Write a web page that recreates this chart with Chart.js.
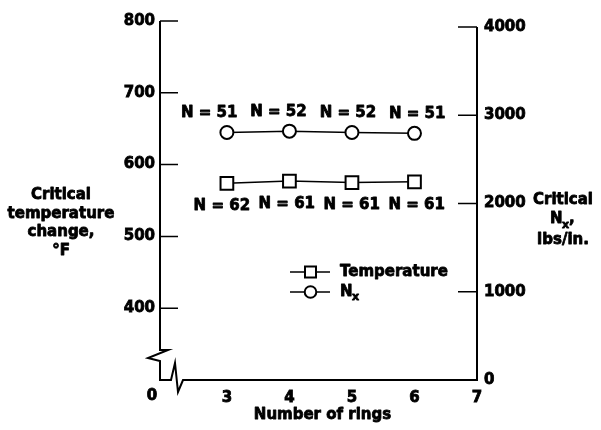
<!DOCTYPE html>
<html><head><meta charset="utf-8">
<script src="https://cdn.jsdelivr.net/npm/chart.js@4/dist/chart.umd.min.js"></script>
<style>html,body{margin:0;padding:0;background:#fff;}#wrap{width:601px;height:430px;position:relative;}</style>
</head><body><div id="wrap"><canvas id="c"></canvas></div>
<script>
const rings = [3, 4, 5, 6];
const temperature = [574, 577, 575, 576];
const nx = [2805, 2820, 2805, 2795];
const tempLabels = ['N = 62', 'N = 61', 'N = 61', 'N = 61'];
const nxLabels = ['N = 51', 'N = 52', 'N = 52', 'N = 51'];
const xTicks = [3, 4, 5, 6, 7];
const leftTicks = [400, 500, 600, 700, 800];
const rightTicks = [0, 1000, 2000, 3000, 4000];
const leftTitle = ['Critical', 'temperature', 'change,', '°F'];
const xTitle = 'Number of rings';

const FAM = '"DejaVu Sans", sans-serif';
const F15 = 'bold 15px ' + FAM;
const F11 = 'bold 11px ' + FAM;
const tickFont = {family: FAM, weight: 'bold', size: 15};
const STROKE = 0.8;

const decor = {
  id: 'decor',
  afterDraw(chart) {
    const ctx = chart.ctx, ca = chart.chartArea;
    const sr = chart.scales.yR, sl = chart.scales.yL;
    const L = ca.left, R = ca.right, B = ca.bottom, T = ca.top;
    const txt = (t, x, y) => {
      ctx.save(); ctx.lineWidth = STROKE; ctx.strokeStyle = '#000'; ctx.lineJoin = 'round';
      ctx.strokeText(t, x, y); ctx.restore(); ctx.fillText(t, x, y);
    };
    ctx.save();
    ctx.strokeStyle = '#000'; ctx.fillStyle = '#000';
    ctx.lineWidth = 2; ctx.lineJoin = 'miter';
    // left axis with break
    ctx.beginPath();
    ctx.moveTo(L, T); ctx.lineTo(L, B - 30);
    ctx.lineTo(L + 8, B - 30); ctx.lineTo(L - 12, B - 22); ctx.lineTo(L, B - 19);
    ctx.lineTo(L, B);
    // bottom axis with break
    ctx.lineTo(L + 11, B); ctx.lineTo(L + 15, B - 17); ctx.lineTo(L + 18, B + 12);
    ctx.lineTo(L + 23, B); ctx.lineTo(R, B);
    // right axis
    ctx.lineTo(R, sr.getPixelForValue(4000));
    ctx.stroke();
    // inner ticks
    ctx.lineWidth = 1.5;
    ctx.beginPath();
    leftTicks.forEach(v => { const p = sl.getPixelForValue(v); ctx.moveTo(L, p); ctx.lineTo(L + 18, p); });
    rightTicks.forEach(v => { if (v === 0) return; const p = sr.getPixelForValue(v); ctx.moveTo(R - 19, p); ctx.lineTo(R, p); });
    ctx.stroke();

    ctx.font = F15; ctx.textAlign = 'center'; ctx.textBaseline = 'middle';
    // broken-axis zero
    txt('0', L - 8, B + 16);
    // x title
    txt(xTitle, (L + R) / 2 + 4, B + 35);
    // left title
    leftTitle.forEach((t, i) => txt(t, 61, 195 + i * 18.7));
    // right title
    txt('Critical', 563, 200);
    txt('lbs/in.', 563, 240);
    ctx.textAlign = 'left';
    txt('N', 550, 219);
    ctx.font = F11;
    txt('x', 562, 225);
    ctx.font = F15;
    txt(',', 569, 219);

    // point labels (spread slightly wider than the points, as in the original)
    ctx.textAlign = 'center';
    const mN = chart.getDatasetMeta(1).data, mT = chart.getDatasetMeta(0).data;
    const mid = (mN[0].x + mN[mN.length - 1].x) / 2;
    mN.forEach((p, i) => txt(nxLabels[i], mid + (p.x - mid) * 1.109 - 7.5, p.y - 19));
    mT.forEach((p, i) => txt(tempLabels[i], mid + (p.x - mid) * 1.039 - 1.4, p.y + 23));

    // legend
    const lx = 290, ly1 = 272, ly2 = 292;
    ctx.lineWidth = 1.5;
    ctx.beginPath(); ctx.moveTo(lx, ly1); ctx.lineTo(lx + 40, ly1); ctx.moveTo(lx, ly2); ctx.lineTo(lx + 40, ly2); ctx.stroke();
    ctx.lineWidth = 2; ctx.fillStyle = '#fff';
    ctx.beginPath(); ctx.rect(lx + 15, ly1 - 5.5, 11, 11); ctx.fill(); ctx.stroke();
    ctx.beginPath(); ctx.arc(lx + 20.5, ly2, 5.8, 0, Math.PI * 2); ctx.fill(); ctx.stroke();
    ctx.fillStyle = '#000';
    ctx.textAlign = 'left';
    txt('Temperature', lx + 50, ly1);
    txt('N', lx + 50, ly2);
    ctx.font = F11;
    txt('x', lx + 62, ly2 + 5);
    ctx.restore();
  }
};

const tickOpts = extra => Object.assign({
  font: tickFont, color: '#000',
  textStrokeColor: '#000', textStrokeWidth: STROKE,
  callback: v => String(v)
}, extra);

new Chart(document.getElementById('c'), {
  type: 'line',
  data: {
    datasets: [
      {
        label: 'Temperature',
        data: rings.map((x, i) => ({x, y: temperature[i]})),
        yAxisID: 'yL',
        borderColor: '#000', borderWidth: 1.5,
        pointStyle: 'rect', pointRadius: 9, pointBorderWidth: 2,
        pointBackgroundColor: '#fff', pointBorderColor: '#000'
      },
      {
        label: 'Nx',
        data: rings.map((x, i) => ({x, y: nx[i]})),
        yAxisID: 'yR',
        borderColor: '#000', borderWidth: 1.5,
        pointStyle: 'circle', pointRadius: 6.5, pointBorderWidth: 2,
        pointBackgroundColor: '#fff', pointBorderColor: '#000'
      }
    ]
  },
  options: {
    responsive: true, maintainAspectRatio: false, animation: false,
    layout: {padding: {top: 21, left: 0, right: 0, bottom: 0}},
    plugins: {legend: {display: false}, tooltip: {enabled: false}},
    scales: {
      x: {
        type: 'linear', min: 1.93, max: 7,
        afterBuildTicks: s => { s.ticks = xTicks.map(v => ({value: v})); },
        afterFit: s => { s.height = 50; },
        ticks: tickOpts({padding: 9, maxRotation: 0, autoSkip: false}),
        grid: {display: false, drawTicks: false},
        border: {display: false}
      },
      yL: {
        type: 'linear', position: 'left', min: 300, max: 800,
        afterBuildTicks: s => { s.ticks = leftTicks.map(v => ({value: v})); },
        afterFit: s => { s.width = 160; },
        ticks: tickOpts({padding: 5}),
        grid: {display: false, drawTicks: false},
        border: {display: false}
      },
      yR: {
        type: 'linear', position: 'right', min: 0, max: 4068,
        afterBuildTicks: s => { s.ticks = rightTicks.map(v => ({value: v})); },
        afterFit: s => { s.width = 124; },
        ticks: tickOpts({padding: 7}),
        grid: {display: false, drawTicks: false},
        border: {display: false}
      }
    }
  },
  plugins: [decor]
});
</script>
</body></html>
